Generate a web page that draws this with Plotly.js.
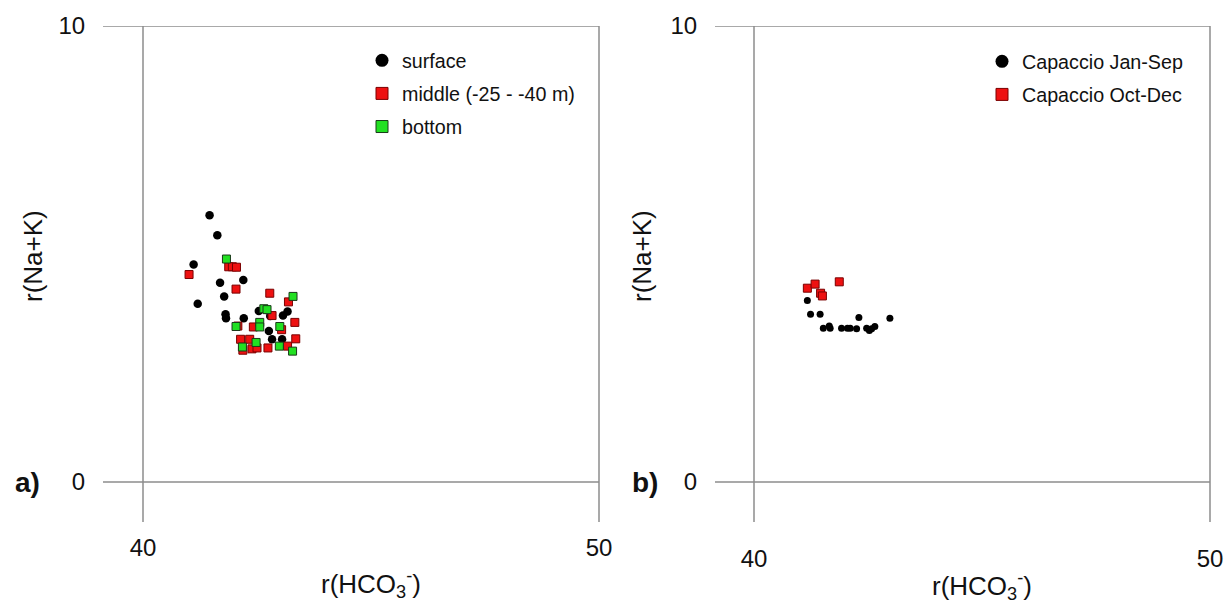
<!DOCTYPE html>
<html>
<head>
<meta charset="utf-8">
<script src="https://cdn.plot.ly/plotly-3.0.1.min.js"></script>
<style>html,body{margin:0;padding:0;background:#fff;}#chart{width:1228px;height:605px;}</style>
</head>
<body>
<div id="chart"></div>
<script>
// Panel a) – sampling depth
const surfaceX = [41.46,41.63,41.11,42.20,41.69,41.78,41.20,41.81,41.82,42.21,42.54,42.71,42.79,43.07,43.17,42.76,42.83,43.05];
const surfaceY = [5.85,5.41,4.77,4.43,4.37,4.07,3.91,3.68,3.59,3.59,3.75,3.77,3.64,3.65,3.74,3.31,3.13,3.13];
const middleX = [41.01,41.88,41.96,42.05,42.04,42.78,43.19,43.33,42.83,43.04,42.08,42.42,42.14,42.34,42.39,42.50,42.74,43.17,43.35,42.19];
const middleY = [4.55,4.72,4.72,4.71,4.23,4.14,3.95,3.50,3.65,3.34,3.42,3.40,3.13,3.13,2.92,2.94,2.94,2.98,3.14,2.89];
const bottomX = [41.83,43.29,42.65,42.72,42.04,42.56,42.56,43.00,42.18,42.48,42.99,43.28];
const bottomY = [4.89,4.07,3.80,3.78,3.41,3.50,3.40,3.41,2.96,3.06,2.98,2.87];
// Panel b) – Capaccio by period
const janSepX = [41.17,41.24,41.45,41.52,41.65,41.67,41.92,42.05,42.11,42.25,42.30,42.47,42.53,42.58,42.65,42.98];
const janSepY = [3.98,3.68,3.68,3.37,3.42,3.37,3.37,3.37,3.37,3.36,3.61,3.37,3.32,3.36,3.41,3.59];
const octDecX = [41.17,41.34,41.46,41.50,41.87];
const octDecY = [4.25,4.34,4.14,4.08,4.39];
// Axis ticks and labels
const xTicks = [40, 50];
const yTicks = [0, 10];
const legendA = ["surface", "middle (-25 - -40 m)", "bottom"];
const legendB = ["Capaccio Jan-Sep", "Capaccio Oct-Dec"];
const xTitle = "r(HCO<sub>3</sub><sup>-</sup>)";
const yTitle = "r(Na+K)";
const panelLabels = ["a)", "b)"];

const FONT = "Liberation Sans, Arial, sans-serif";
const W = 1228, H = 605;
const BLACK = "#000000", RED = "#ee1111", GREEN = "#22e022";
const REDEDGE = "#7a0000", GREENEDGE = "#1a3a1a";

function pts(x, y, xa, ya, sym, color, edge, size) {
  return {x: x, y: y, xaxis: xa, yaxis: ya, type: "scatter", mode: "markers", showlegend: false, hoverinfo: "x+y",
    marker: {symbol: sym, color: color, size: size, line: {color: edge, width: edge ? 1 : 0}}};
}
function leg(name, legend, sym, color, edge, size, xa, ya) {
  return {x: [null], y: [null], xaxis: xa, yaxis: ya, type: "scatter", mode: "markers", name: name, legend: legend,
    legendgroup: legend + name, showlegend: true,
    marker: {symbol: sym, color: color, size: size, line: {color: edge, width: edge ? 1 : 0}}};
}

const data = [
  pts(surfaceX, surfaceY, "x", "y", "circle", BLACK, null, 8.5),
  pts(middleX, middleY, "x", "y", "square", RED, REDEDGE, 8),
  pts(bottomX, bottomY, "x", "y", "square", GREEN, GREENEDGE, 8),
  pts(janSepX, janSepY, "x2", "y2", "circle", BLACK, null, 7),
  pts(octDecX, octDecY, "x2", "y2", "square", RED, REDEDGE, 8),
  leg(legendA[0], "legend", "circle", BLACK, null, 13, "x", "y"),
  leg(legendA[1], "legend", "square", RED, REDEDGE, 12, "x", "y"),
  leg(legendA[2], "legend", "square", GREEN, GREENEDGE, 12, "x", "y"),
  leg(legendB[0], "legend2", "circle", BLACK, null, 13, "x2", "y2"),
  leg(legendB[1], "legend2", "square", RED, REDEDGE, 12, "x2", "y2")
];

const pxPerUnit = 45.6;
const xr1 = [40 - 40 / pxPerUnit, 50];
const xr2 = [40 - 39 / pxPerUnit, 50];
const yr = [0 - 40 / pxPerUnit, 10];

function xax(domain, range, ticklen) {
  return {domain: domain, range: range, tickvals: xTicks, ticktext: xTicks.map(String), ticks: "outside", ticklen: ticklen,
    tickcolor: "rgba(0,0,0,0)", showgrid: false, zeroline: false, showline: false, fixedrange: true,
    tickfont: {family: FONT, size: 24, color: "#111"}};
}
function yax(range, anchor) {
  return {domain: [1 - 522 / H, 1 - 26 / H], range: range, anchor: anchor, tickvals: yTicks, ticktext: yTicks.map(String),
    ticks: "outside", ticklen: 12, tickcolor: "rgba(0,0,0,0)", showgrid: false, zeroline: false, showline: false,
    fixedrange: true, tickfont: {family: FONT, size: 24, color: "#111"}};
}

const LINE = {color: "#8c8c8c", width: 1.5};
function frame(xa, ya) {
  return [
    {type: "line", xref: xa + " domain", yref: ya, x0: 0, x1: 1, y0: 10, y1: 10, line: LINE},
    {type: "line", xref: xa + " domain", yref: ya + " domain", x0: 1, x1: 1, y0: 0, y1: 1, line: LINE},
    {type: "line", xref: xa, yref: ya + " domain", x0: 40, x1: 40, y0: 0, y1: 1, line: LINE},
    {type: "line", xref: xa + " domain", yref: ya, x0: 0, x1: 1, y0: 0, y1: 0, line: LINE}
  ];
}

function ann(text, x, y, size, extra) {
  return Object.assign({text: text, xref: "paper", yref: "paper", x: x / W, y: 1 - y / H, showarrow: false,
    xanchor: "center", yanchor: "middle", font: {family: FONT, size: size, color: "#111"}}, extra || {});
}

const layout = {
  width: W, height: H, margin: {l: 0, r: 0, t: 0, b: 0}, paper_bgcolor: "#fff", plot_bgcolor: "#fff",
  xaxis: xax([103 / W, 599 / W], xr1, 4),
  yaxis: yax(yr, "x"),
  xaxis2: xax([715 / W, 1210 / W], xr2, 15),
  yaxis2: yax(yr, "x2"),
  shapes: frame("x", "y").concat(frame("x2", "y2")),
  annotations: [
    ann(yTitle, 33, 256, 26, {textangle: -90}),
    ann(yTitle, 642, 256, 26, {textangle: -90}),
    ann(xTitle, 371, 584, 26),
    ann(xTitle, 982, 586, 26),
    ann("<b>" + panelLabels[0] + "</b>", 27, 482, 28),
    ann("<b>" + panelLabels[1] + "</b>", 645, 482, 28)
  ],
  legend: {x: 362 / W, y: 1 - 41 / H, xanchor: "left", yanchor: "top", bgcolor: "rgba(0,0,0,0)", borderwidth: 0,
    font: {family: FONT, size: 19.7, color: "#111"}, tracegroupgap: 4.5},
  legend2: {x: 982 / W, y: 1 - 42 / H, xanchor: "left", yanchor: "top", bgcolor: "rgba(0,0,0,0)", borderwidth: 0,
    font: {family: FONT, size: 19.7, color: "#111"}, tracegroupgap: 4.5},
  showlegend: true
};

Plotly.newPlot("chart", data, layout, {displayModeBar: false, staticPlot: true});
</script>
</body>
</html>
